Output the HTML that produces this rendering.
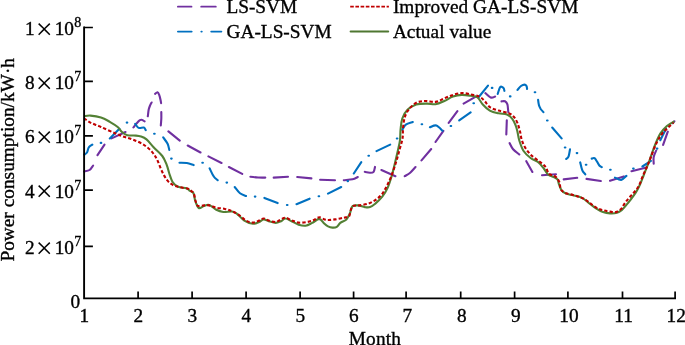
<!DOCTYPE html>
<html><head><meta charset="utf-8"><title>Power consumption forecast</title>
<style>
html,body{margin:0;padding:0;background:#fff;}
body{width:685px;height:345px;overflow:hidden;}
svg{display:block;}
.t{filter:grayscale(1);}
text{font-family:"Liberation Serif",serif;font-size:19.3px;fill:#000;stroke:#000;stroke-width:0.35px;}
</style></head><body>
<svg width="685" height="345" viewBox="0 0 685 345">
<rect width="685" height="345" fill="#fff"/>
<g><path d="M84.2 171.4C85.1 171.2 88.1 171.0 89.6 170.0C91.1 169.0 92.5 166.3 93.1 165.6M97.5 155.1L104.5 144.6M111.5 138.4L125.5 132.0M133.4 127.5C133.9 126.8 135.3 124.8 136.4 123.6C137.5 122.4 138.9 120.8 139.9 120.2C140.9 119.6 141.5 119.7 142.3 119.9C143.1 120.1 144.2 121.2 144.6 121.4M147.8 116.3C148.0 115.2 148.3 111.3 148.7 109.5C149.1 107.7 149.6 106.6 150.1 105.4C150.6 104.2 151.3 103.0 151.6 102.5M155.1 93.8C155.5 93.5 156.8 92.0 157.5 92.2C158.2 92.4 158.7 93.6 159.2 94.9C159.7 96.2 160.3 98.8 160.6 100.2C160.9 101.6 161.0 102.6 161.1 103.1M161.3 112.1C161.3 113.2 161.4 116.7 161.3 118.9C161.2 121.1 160.9 124.4 160.8 125.5M168.4 131.4L179.8 140.6M187.7 145.5L200.5 152.5M208.4 156.4L221.5 163.0M228.9 167.0L242.2 173.9M250.4 176.7C251.7 176.8 255.5 177.3 258.0 177.5C260.5 177.7 264.1 177.6 265.3 177.6M273.7 177.6L288.0 176.7M297.2 177.0L311.4 178.4M320.1 179.7L335.0 180.2M343.8 180.2C345.2 180.0 350.2 179.8 352.5 179.3C354.8 178.8 356.9 177.4 357.8 177.0M364.8 171.8C365.7 172.0 368.5 172.7 370.0 172.7C371.5 172.7 372.8 172.8 373.6 171.8C374.4 170.8 374.8 167.7 375.0 166.9M381.4 170.0L395.4 176.2M404.7 176.2C405.6 175.6 408.4 174.2 410.2 172.7C412.0 171.2 414.6 168.0 415.5 167.1M421.5 160.4L431.2 149.0M435.5 142.0L443.4 130.8M448.7 122.9L457.4 111.2M463.6 103.6L475.8 96.6M485.4 93.1C486.3 93.8 489.1 96.9 490.7 97.5C492.3 98.1 494.4 96.8 495.1 96.6M501.5 101.4C502.1 101.4 504.0 100.8 505.0 101.3C506.0 101.8 506.8 102.5 507.4 104.3C507.9 106.1 508.1 110.7 508.3 112.0M506.8 120.4L506.3 134.5M509.6 143.1C510.2 144.1 511.5 147.4 513.1 149.3C514.7 151.2 518.3 153.6 519.3 154.5M526.3 161.2L532.4 172.0M542.0 175.2L556.0 174.3M563.7 179.4L577.2 177.8M586.5 178.9L600.8 181.0M610.0 180.8L623.8 176.4M631.5 171.2L646.4 167.5M653.7 163.7C653.7 162.6 653.3 159.2 653.7 157.0C654.1 154.8 655.8 151.6 656.2 150.5M663.1 144.9L667.8 131.7M672.6 123.2L674.4 121.3" stroke="#7030a0" stroke-width="2.1" fill="none" stroke-linecap="round"/><path d="M84.2 154.6C84.7 154.2 86.2 153.7 87.0 152.5C87.8 151.3 87.9 148.6 88.8 147.3C89.7 146.0 91.7 145.1 92.3 144.6M100.7 142.9h0.6M109.8 138.4L119.4 128.8M126.7 122.6h0.6M135.2 123.9C135.8 124.6 137.2 127.3 138.7 127.9C140.1 128.5 142.7 127.2 143.9 127.6C145.1 128.0 145.4 129.8 145.7 130.2M154.1 133.7h0.6M163.2 137.4C163.9 138.5 166.6 141.7 167.6 143.8C168.6 145.9 169.0 148.9 169.3 149.9M171.1 158.6h0.6M179.5 162.7C180.7 162.8 184.5 162.6 186.8 163.0C189.2 163.4 192.5 164.8 193.6 165.1M202.3 162.7h0.6M209.6 168.3C210.3 169.6 212.2 174.2 213.6 176.2C214.9 178.2 217.0 179.5 217.7 180.2M226.5 182.6h0.6M234.7 187.0C235.6 188.1 238.1 191.8 240.0 193.3C241.9 194.8 245.0 195.6 246.0 196.0M254.8 196.6h0.6M264.4 197.9L277.6 203.1M286.9 205.0h0.6M296.5 204.2L309.6 198.7M318.6 196.3h0.6M328.0 193.6L341.2 187.0M347.5 181.1h0.6M353.8 173.5L361.3 162.1M368.4 155.7h0.6M376.5 151.1L390.2 144.6M396.8 138.5h0.6M402.3 129.9C402.9 129.0 404.1 126.0 405.8 124.7C407.6 123.4 411.6 122.5 412.8 122.0M421.6 124.3h0.6M429.9 127.3C431.0 127.0 434.3 124.9 436.4 125.5C438.5 126.1 441.5 129.9 442.5 130.8M450.6 126.0h0.6M459.2 120.3L470.6 112.4M473.4 103.3h0.6M478.4 97.5L488.0 85.6M491.8 87.9h0.6M497.7 94.0C498.1 92.8 499.3 88.0 500.3 87.0C501.3 86.0 502.8 87.4 503.5 88.0C504.2 88.6 504.2 90.3 504.4 90.8M509.9 96.4h0.6M517.5 89.9C518.1 89.2 519.8 86.9 521.0 86.0C522.2 85.1 523.6 84.6 524.5 84.6C525.4 84.6 526.1 85.3 526.5 86.0C526.9 86.7 527.0 88.5 527.1 89.0M534.7 92.2h0.6M538.1 99.8C538.2 100.7 538.5 103.4 538.9 104.9C539.3 106.4 540.0 107.8 540.7 109.0C541.5 110.2 543.0 111.6 543.4 112.1M547.0 120.5h0.6M552.2 127.5L561.6 138.4M564.8 147.5h0.6M570.0 149.3C569.8 150.5 569.2 154.7 568.6 156.3C568.0 157.9 566.6 158.5 566.2 158.9M576.7 153.1h0.6M580.2 162.4C580.6 163.7 581.4 168.3 582.3 170.3C583.1 172.3 584.8 173.6 585.3 174.3M585.8 164.7h0.6M591.7 158.6C592.2 158.5 593.7 157.6 594.6 158.2C595.5 158.8 596.4 160.7 597.2 161.9C598.0 163.1 598.5 164.6 599.3 165.5C600.1 166.4 601.4 166.9 601.8 167.2M610.1 169.7h0.6M615.0 177.6C616.0 178.0 619.3 180.2 621.2 179.9C623.1 179.6 625.5 176.6 626.4 175.9M633.1 168.6h0.6M642.4 166.5L650.9 160.9M656.8 148.6h0.6M660.3 140.2L666.0 128.8" stroke="#0070c0" stroke-width="2.1" fill="none" stroke-linecap="round"/><path d="M84.2 116.2C85.2 116.1 87.7 115.4 90.5 115.6C93.3 115.8 97.8 116.4 101.0 117.4C104.2 118.4 107.0 120.2 109.8 121.8C112.6 123.4 115.7 125.3 117.7 127.0C119.7 128.7 120.4 130.6 122.0 132.0C123.6 133.4 125.0 134.6 127.3 135.2C129.6 135.8 133.7 135.4 136.0 135.6C138.3 135.8 139.2 135.9 141.0 136.5C142.8 137.1 144.4 137.6 146.5 139.4C148.6 141.2 151.0 144.5 153.6 147.3C156.2 150.1 160.1 153.1 162.3 156.0C164.5 158.9 165.5 161.9 166.7 164.8C167.9 167.7 168.3 170.6 169.3 173.5C170.3 176.4 171.4 180.1 172.8 182.3C174.2 184.5 175.7 185.7 178.0 186.7C180.3 187.7 184.8 187.7 186.8 188.4C188.8 189.1 188.9 190.2 190.0 191.0C191.1 191.8 192.6 191.6 193.5 193.3C194.4 195.0 194.4 198.6 195.3 201.0C196.2 203.4 197.4 207.2 198.8 208.0C200.2 208.8 202.2 206.4 204.0 205.9C205.8 205.4 207.2 204.3 209.3 205.0C211.4 205.7 214.0 208.6 216.3 209.8C218.6 211.0 220.7 211.7 223.3 212.0C225.9 212.3 229.7 211.2 232.0 211.5C234.3 211.8 235.2 212.6 237.3 214.1C239.4 215.6 241.7 219.0 244.3 220.6C246.9 222.2 250.5 223.6 253.0 223.8C255.5 224.0 257.4 222.7 259.2 222.0C261.0 221.3 262.0 219.5 263.6 219.4C265.2 219.3 266.8 220.6 268.8 221.2C270.8 221.8 273.8 222.9 275.8 222.9C277.8 222.9 279.4 221.9 281.0 221.2C282.6 220.5 283.6 218.5 285.4 218.5C287.2 218.5 289.4 220.2 291.6 221.2C293.8 222.2 296.3 223.9 298.6 224.7C300.9 225.4 303.3 226.0 305.6 225.7C307.9 225.4 310.0 224.0 312.3 222.9C314.6 221.8 317.3 218.8 319.3 218.9C321.3 219.1 323.1 222.6 324.5 223.8C325.9 225.1 326.7 225.8 328.0 226.4C329.3 227.0 330.9 227.5 332.4 227.6C333.9 227.7 335.5 227.7 336.8 226.9C338.1 226.1 338.7 224.2 340.3 222.9C341.9 221.7 344.8 221.0 346.4 219.4C348.0 217.8 348.9 215.5 349.9 213.3C350.9 211.1 351.2 207.6 352.5 206.3C353.8 205.0 355.8 205.3 357.8 205.4C359.9 205.5 362.8 206.8 364.8 207.1C366.8 207.4 368.2 207.7 370.0 207.1C371.8 206.5 373.2 205.3 375.3 203.6C377.4 201.8 380.2 199.2 382.3 196.6C384.4 194.0 386.0 191.5 387.6 187.9C389.2 184.3 390.7 179.4 392.0 175.0C393.3 170.6 394.4 165.5 395.4 161.3C396.4 157.1 397.2 153.6 398.0 150.0C398.8 146.4 399.6 143.5 400.0 140.0C400.4 136.5 400.2 132.6 400.6 129.0C401.0 125.4 401.2 121.7 402.3 118.5C403.4 115.3 405.2 112.1 407.5 109.8C409.8 107.5 413.1 105.5 416.3 104.5C419.5 103.5 423.6 103.6 426.8 103.6C430.0 103.5 432.6 104.6 435.5 104.2C438.4 103.8 441.4 102.3 444.3 101.0C447.2 99.7 450.1 97.6 453.0 96.6C455.9 95.6 458.9 95.0 461.8 94.9C464.7 94.8 468.0 95.4 470.6 95.8C473.2 96.2 475.6 96.0 477.6 97.5C479.6 99.0 480.8 102.3 482.8 104.5C484.8 106.7 487.2 109.1 489.8 110.6C492.4 112.1 495.7 112.7 498.6 113.3C501.5 113.9 504.7 113.5 507.0 114.4C509.3 115.3 510.8 116.9 512.3 118.8C513.8 120.7 514.9 123.6 515.8 125.8C516.7 128.0 516.9 129.6 517.5 132.0C518.1 134.4 518.3 137.3 519.3 140.5C520.3 143.7 521.7 148.1 523.6 151.0C525.5 153.9 528.1 156.1 530.6 158.0C533.1 159.9 536.3 160.7 538.5 162.4C540.7 164.2 542.2 166.5 543.8 168.5C545.4 170.5 546.5 173.1 548.2 174.6C550.0 176.1 552.8 176.5 554.3 177.3C555.8 178.1 556.7 178.3 557.5 179.5C558.3 180.7 558.3 182.5 559.0 184.3C559.7 186.1 560.4 188.9 561.6 190.4C562.8 191.9 564.1 192.7 566.0 193.5C567.9 194.3 570.3 194.6 573.0 195.3C575.7 196.0 579.3 196.6 582.0 197.9C584.7 199.2 586.7 201.3 589.0 203.1C591.3 204.8 593.7 206.9 596.0 208.4C598.3 209.9 600.7 211.3 603.0 212.1C605.3 212.9 607.7 213.3 610.0 213.4C612.3 213.5 615.0 213.4 617.0 212.8C619.0 212.2 620.1 211.4 621.7 210.1C623.3 208.8 624.8 206.8 626.4 204.9C628.0 203.1 629.5 201.1 631.1 199.0C632.7 196.9 634.2 194.9 635.7 192.6C637.2 190.3 638.5 187.8 639.8 185.0C641.1 182.2 642.3 178.8 643.6 175.5C644.9 172.2 646.4 168.2 647.5 165.5C648.6 162.8 648.8 162.3 650.0 159.0C651.2 155.7 653.0 150.0 654.7 145.8C656.4 141.6 658.3 136.9 660.3 133.6C662.3 130.3 664.5 128.1 666.9 126.0C669.2 124.0 673.1 122.1 674.4 121.3" stroke="#538135" stroke-width="2.1" fill="none"/><path d="M84.0 118.3C85.1 119.0 87.7 121.1 90.5 122.6C93.3 124.0 96.9 125.2 101.0 127.0C105.1 128.8 111.2 131.6 115.0 133.2C118.8 134.8 120.9 135.7 123.8 136.7C126.7 137.7 129.3 138.1 132.5 139.4C135.7 140.7 139.8 142.3 143.0 144.3C146.2 146.3 149.5 149.1 151.8 151.6C154.1 154.1 155.4 156.4 157.0 159.5C158.6 162.6 159.8 166.6 161.4 170.0C163.0 173.4 164.8 177.2 166.7 179.7C168.6 182.2 170.6 183.7 172.8 184.9C175.0 186.2 177.2 186.5 179.8 187.2C182.4 187.9 186.7 188.2 188.6 188.9C190.5 189.6 190.6 190.4 191.5 191.2C192.4 192.0 193.1 191.9 193.8 193.5C194.5 195.1 194.9 198.9 195.6 201.0C196.3 203.1 196.5 205.2 197.9 205.9C199.3 206.6 202.1 205.5 204.0 205.4C205.9 205.3 207.2 205.0 209.3 205.4C211.4 205.8 213.7 207.1 216.3 207.7C218.9 208.3 222.4 208.3 225.0 208.9C227.6 209.5 229.7 210.2 232.0 211.2C234.3 212.2 236.7 213.4 239.0 215.0C241.3 216.6 243.7 219.3 246.0 220.6C248.3 221.9 250.8 222.6 253.0 222.6C255.2 222.6 257.4 221.3 259.2 220.6C261.0 219.9 262.0 218.5 263.6 218.5C265.2 218.5 266.8 220.0 268.8 220.6C270.8 221.2 273.8 222.2 275.8 222.0C277.8 221.8 279.4 220.1 281.0 219.4C282.6 218.7 283.6 217.5 285.4 217.7C287.2 217.8 289.4 219.5 291.6 220.3C293.8 221.1 296.0 222.3 298.6 222.6C301.2 222.9 304.4 222.4 307.0 222.0C309.6 221.6 311.9 220.7 314.0 219.9C316.1 219.1 317.2 217.3 319.3 217.3C321.4 217.3 323.7 219.6 326.3 219.9C328.9 220.2 332.1 219.8 335.0 219.4C337.9 219.0 341.5 218.2 343.8 217.7C346.1 217.2 347.8 217.6 349.0 216.3C350.2 215.0 350.1 211.5 350.8 209.8C351.5 208.1 351.9 206.6 353.4 205.9C354.8 205.2 357.0 205.8 359.5 205.4C362.0 205.0 365.7 204.5 368.3 203.6C370.9 202.7 373.1 201.5 375.3 200.1C377.5 198.7 379.6 196.9 381.4 194.9C383.1 192.9 384.2 190.9 385.8 187.9C387.4 184.9 389.2 181.4 391.0 177.0C392.8 172.6 394.8 166.1 396.3 161.3C397.8 156.5 398.9 151.9 400.0 148.0C401.1 144.1 402.1 141.2 402.6 137.8C403.1 134.4 402.7 130.8 403.1 127.3C403.5 123.8 403.9 119.9 404.9 116.8C405.9 113.7 407.4 111.2 409.3 108.9C411.2 106.6 413.7 104.1 416.3 102.8C418.9 101.5 421.8 101.2 425.0 101.0C428.2 100.8 432.3 102.3 435.5 101.9C438.7 101.5 441.4 99.6 444.3 98.4C447.2 97.2 450.1 95.8 453.0 94.9C455.9 94.0 458.9 93.2 461.8 93.1C464.7 93.0 467.7 93.8 470.6 94.4C473.5 95.0 477.0 95.5 479.3 96.6C481.6 97.7 482.9 99.2 484.6 101.0C486.4 102.8 487.5 105.5 489.8 107.1C492.1 108.7 495.4 109.6 498.6 110.6C501.8 111.6 506.2 112.1 508.8 113.2C511.4 114.3 512.5 115.3 514.0 117.0C515.5 118.7 516.5 120.7 517.5 123.2C518.5 125.7 519.4 128.9 520.1 131.8C520.8 134.7 520.9 137.6 521.9 140.5C522.9 143.4 524.5 146.7 526.3 149.3C528.0 151.9 530.2 154.3 532.4 156.3C534.6 158.3 537.2 159.8 539.4 161.5C541.6 163.2 543.9 164.8 545.5 166.8C547.1 168.9 547.4 172.2 549.0 173.8C550.6 175.4 553.5 175.1 555.2 176.4C556.9 177.7 558.3 179.8 559.2 181.7C560.1 183.6 559.9 186.3 560.4 187.8C560.9 189.3 561.1 189.9 562.0 190.8C562.9 191.7 564.2 192.6 566.0 193.3C567.8 194.0 570.9 194.3 573.0 194.9C575.1 195.5 576.7 196.0 578.5 196.7C580.3 197.3 582.0 197.9 583.8 198.8C585.5 199.7 587.4 201.1 589.0 202.3C590.6 203.5 592.0 204.9 593.7 206.0C595.4 207.1 597.2 208.2 599.0 209.0C600.8 209.8 602.4 210.1 604.2 210.5C606.0 210.9 608.0 211.3 610.0 211.6C612.0 211.9 614.0 212.5 615.9 212.1C617.8 211.7 619.7 210.3 621.1 209.0C622.5 207.7 623.0 205.9 624.1 204.3C625.2 202.7 626.3 201.2 627.6 199.6C628.9 198.0 630.4 196.4 631.7 194.9C633.1 193.4 634.5 191.9 635.7 190.3C636.9 188.8 637.8 188.1 639.0 185.6C640.2 183.1 641.6 178.9 643.0 175.6C644.4 172.2 646.2 168.6 647.5 165.5C648.8 162.4 649.4 160.8 650.9 157.0C652.4 153.2 654.6 146.9 656.5 143.0C658.4 139.1 660.3 136.1 662.2 133.6C664.1 131.1 665.9 129.7 667.8 127.9C669.7 126.1 672.5 123.7 673.5 122.8" stroke="#c00000" stroke-width="2.1" stroke-dasharray="3.3 2.1" fill="none"/></g>
<g><path d="M84.1 26.6V298.4H676" fill="none" stroke="#000" stroke-width="1.9"/><path d="M138.1 298.4v-6.8M192.1 298.4v-6.8M246.1 298.4v-6.8M300.1 298.4v-6.8M353.6 298.4v-6.8M406.1 298.4v-6.8M460.7 298.4v-6.8M514.6 298.4v-6.8M567.9 298.4v-6.8M622.5 298.4v-6.8M675.1 298.4v-6.8M84.1 246.4h8.8M84.1 190.1h8.8M84.1 135.9h8.8M84.1 81.4h8.8M84.1 27.5h8.8" fill="none" stroke="#000" stroke-width="1.7"/></g>
<g><path d="M177.9 6.7h13.6M201.2 6.7h14.6" stroke="#7030a0" stroke-width="1.8" stroke-linecap="round" fill="none"/><path d="M177.9 31.6h13.8M201.3 31.6h0.5M211.2 31.6h10.2" stroke="#0070c0" stroke-width="1.8" stroke-linecap="round" fill="none"/><path d="M350.2 6.65h38.7" stroke="#c00000" stroke-width="1.8" stroke-dasharray="3.6 1.6" fill="none"/><path d="M350.6 31.6h37.6" stroke="#4f7731" stroke-width="2" stroke-linecap="round" fill="none"/></g>
<g class="t"><text x="84.4" y="321.6" text-anchor="middle">1</text><text x="138.4" y="321.6" text-anchor="middle">2</text><text x="192.4" y="321.6" text-anchor="middle">3</text><text x="246.4" y="321.6" text-anchor="middle">4</text><text x="300.4" y="321.6" text-anchor="middle">5</text><text x="353.9" y="321.6" text-anchor="middle">6</text><text x="407.2" y="321.6" text-anchor="middle">7</text><text x="461.8" y="321.6" text-anchor="middle">8</text><text x="515.7" y="321.6" text-anchor="middle">9</text><text x="569.0" y="321.6" text-anchor="middle">10</text><text x="623.6" y="321.6" text-anchor="middle">11</text><text x="676.2" y="321.6" text-anchor="middle">12</text><text x="70.4" y="307.7">0</text><text x="25" y="253.8">2</text><text x="35.7" y="257.7" style="font-size:30px;stroke-width:0">×</text><text x="54.7" y="253.8">10</text><text x="74.2" y="245.9" style="font-size:14px">7</text><text x="25" y="197.5">4</text><text x="35.7" y="201.4" style="font-size:30px;stroke-width:0">×</text><text x="54.7" y="197.5">10</text><text x="74.2" y="189.6" style="font-size:14px">7</text><text x="25" y="143.3">6</text><text x="35.7" y="147.2" style="font-size:30px;stroke-width:0">×</text><text x="54.7" y="143.3">10</text><text x="74.2" y="135.4" style="font-size:14px">7</text><text x="25" y="88.8">8</text><text x="35.7" y="92.7" style="font-size:30px;stroke-width:0">×</text><text x="54.7" y="88.8">10</text><text x="74.2" y="80.9" style="font-size:14px">7</text><text x="25" y="34.9">1</text><text x="35.7" y="38.8" style="font-size:30px;stroke-width:0">×</text><text x="54.7" y="34.9">10</text><text x="74.2" y="27.0" style="font-size:14px">8</text><text x="348.7" y="344.6" textLength="52.3" lengthAdjust="spacing">Month</text><text transform="translate(13.7 261.6) rotate(-90)" textLength="203.6" lengthAdjust="spacing">Power consumption/kW·h</text><text x="226.4" y="13.3">LS-SVM</text><text x="226.6" y="38.4">GA-LS-SVM</text><text x="392.9" y="13.2" textLength="185.6" lengthAdjust="spacing">Improved GA-LS-SVM</text><text x="392.9" y="38.3" textLength="98.4" lengthAdjust="spacing">Actual value</text></g>
</svg>
</body></html>
